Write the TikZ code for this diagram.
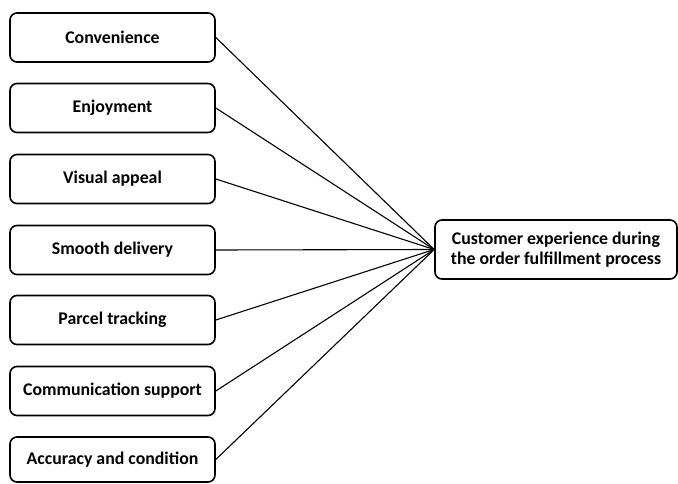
\documentclass[tikz,border=0pt]{standalone}
\usepackage{fontspec}
\setmainfont{Carlito}
\begin{document}
\begin{tikzpicture}[x=1pt,y=-1pt,
  factor/.style={draw, line width=1.6pt, rounded corners=7pt, minimum width=205pt, minimum height=49pt, inner sep=0pt, font=\fontsize{17.8}{20.5}\selectfont\bfseries, align=center},
  outcome/.style={factor, minimum width=242pt, minimum height=59pt},
  link/.style={line width=1.1pt}]
  \useasboundingbox (0,0) rectangle (678,484);
  \node[factor] (f1) at (112.5,37.5) {Convenience};
  \node[factor] (f2) at (112.5,108) {Enjoyment};
  \node[factor] (f3) at (112.5,179) {Visual appeal};
  \node[factor] (f4) at (112.5,250) {Smooth delivery};
  \node[factor] (f5) at (112.5,320) {Parcel tracking};
  \node[factor] (f6) at (112.5,391) {Communication support};
  \node[factor, minimum height=45pt] (f7) at (112.5,459.5) {Accuracy and condition};
  \node[outcome] (cx) at (556,249.5) {Customer experience during\\the order fulfillment process};
  \foreach \i in {1,...,7}
    \draw[link] (f\i.east) -- (cx.west);
\end{tikzpicture}
\end{document}
